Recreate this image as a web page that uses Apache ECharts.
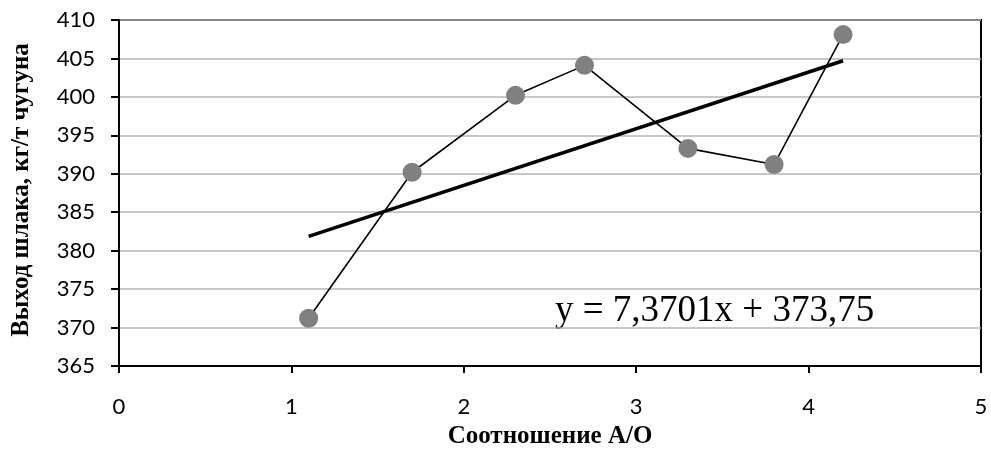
<!DOCTYPE html>
<html>
<head>
<meta charset="utf-8">
<script src="https://cdn.jsdelivr.net/npm/echarts@6/dist/echarts.min.js"></script>
<style>
html,body{margin:0;padding:0;background:#fff;}
#chart{width:991px;height:451px;}
</style>
</head>
<body>
<div id="chart"></div>
<script>
// Data
const xValues = [1.1, 1.7, 2.3, 2.7, 3.3, 3.8, 4.2];
const yValues = [371.2, 390.2, 400.2, 404.1, 393.3, 391.2, 408.1];
const trendSlope = 7.3701;
const trendIntercept = 373.75;
const trendXRange = [1.1, 4.2];
const equationText = 'y = 7,3701x + 373,75';
const xTitle = 'Соотношение А/О';
const yTitle = 'Выход шлака, кг/т чугуна';

const points = xValues.map((x, i) => [x, yValues[i]]);
const trend = trendXRange.map(x => [x, trendSlope * x + trendIntercept]);

const chart = echarts.init(document.getElementById('chart'));
const tickFont = { fontFamily: 'Lato, "Open Sans", sans-serif', fontSize: 22, color: '#000' };

chart.setOption({
  animation: false,
  grid: { left: 119, right: 10, top: 20, bottom: 85, outerBoundsMode: 'none', containLabel: false, show: true, borderColor: '#000', borderWidth: 2, backgroundColor: 'transparent' },
  xAxis: {
    type: 'value', min: 0, max: 5, interval: 1,
    axisLine: { show: true, onZero: false, lineStyle: { color: '#000', width: 2 } },
    axisTick: { show: true, length: 7, lineStyle: { color: '#000', width: 2 } },
    axisLabel: Object.assign({ margin: 30 }, tickFont),
    splitLine: { show: false },
    name: xTitle, nameLocation: 'middle', nameGap: 58,
    nameTextStyle: { fontFamily: '"Liberation Serif", "Times New Roman", serif', fontWeight: 'bold', fontSize: 25, color: '#000' }
  },
  yAxis: {
    type: 'value', min: 365, max: 410, interval: 5,
    axisLine: { show: true, onZero: false, lineStyle: { color: '#000', width: 2 } },
    axisTick: { show: true, length: 8, lineStyle: { color: '#000', width: 2 } },
    axisLabel: Object.assign({ margin: 24 }, tickFont),
    splitLine: { show: true, lineStyle: { color: '#b4b4b4', width: 1.5 } }
  },
  graphic: [
    { type: 'text', left: 555, top: 293, style: { text: equationText, font: '37px "Liberation Serif", "Times New Roman", serif', fill: '#000' } },
    { type: 'text', x: 22, y: 190, rotation: Math.PI / 2, style: { text: yTitle, font: 'bold 25px "Liberation Serif", "Times New Roman", serif', fill: '#000', align: 'center', verticalAlign: 'middle' } }
  ],
  series: [
    {
      type: 'line', data: points, symbol: 'circle', symbolSize: 19,
      itemStyle: { color: '#808080' },
      lineStyle: { color: '#000', width: 1.6 },
      z: 3
    },
    {
      type: 'line', data: trend, symbol: 'none',
      lineStyle: { color: '#000', width: 3.5 },
      z: 2
    }
  ]
});
</script>
</body>
</html>
